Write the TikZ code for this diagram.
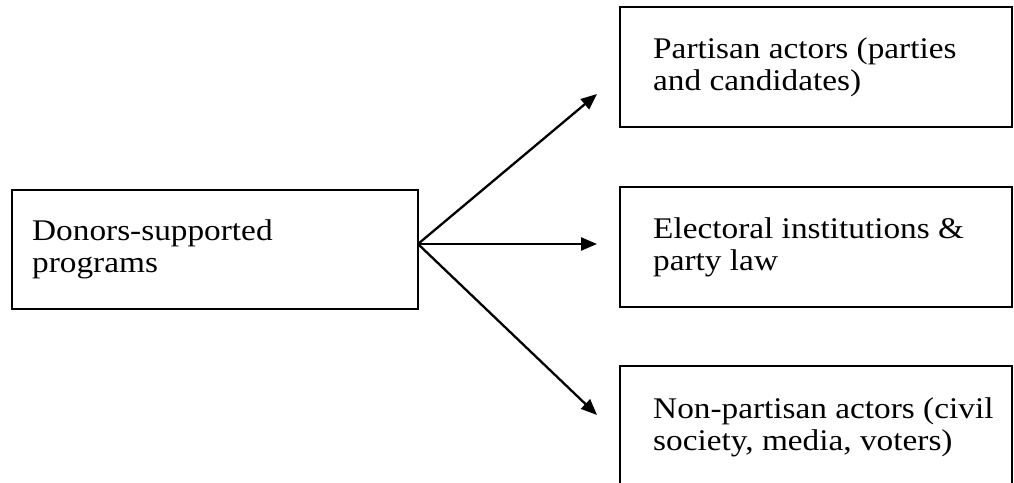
\documentclass[tikz,border=0pt]{standalone}
\usepackage{fontspec}
\setmainfont{Liberation Serif}[FakeStretch=1.11]
\usetikzlibrary{arrows.meta}
\tikzset{
  box/.style={draw=black, line width=2.3pt, rectangle, inner sep=0pt, minimum width=392pt, minimum height=120pt},
  txt/.style={inner sep=0pt, align=left, anchor=base west, font=\fontsize{30}{32}\selectfont},
  conn/.style={line width=2.3pt, -{Triangle[length=16pt,width=13pt]}}
}
\begin{document}
\begin{tikzpicture}[x=1pt,y=-1pt]
\useasboundingbox (0,0) rectangle (1014,482);
% boxes
\node[box, minimum width=406pt, minimum height=119pt] (L) at (215,249.5) {};
\node[box] (T) at (816,67) {};
\node[box] (M) at (816,247) {};
\node[box] (B) at (816,426) {};
% texts
\node[txt] (Lt) at (32,272) {Donors-supported\\programs};
\node[txt] (Tt) at (653,90) {Partisan actors (parties\\and candidates)};
\node[txt] (Mt) at (653,270) {Electoral institutions \&\\party law};
\node[txt] (Bt) at (653,450) {Non-partisan actors (civil\\society, media, voters)};
% connectors
\coordinate (hub) at (418,244);
\coordinate (eT) at (597,94);
\coordinate (eM) at (597,244);
\coordinate (eB) at (597,415);
\draw[conn] (hub) -- (eT);
\draw[conn] (hub) -- (eM);
\draw[conn] (hub) -- (eB);
\end{tikzpicture}
\end{document}
